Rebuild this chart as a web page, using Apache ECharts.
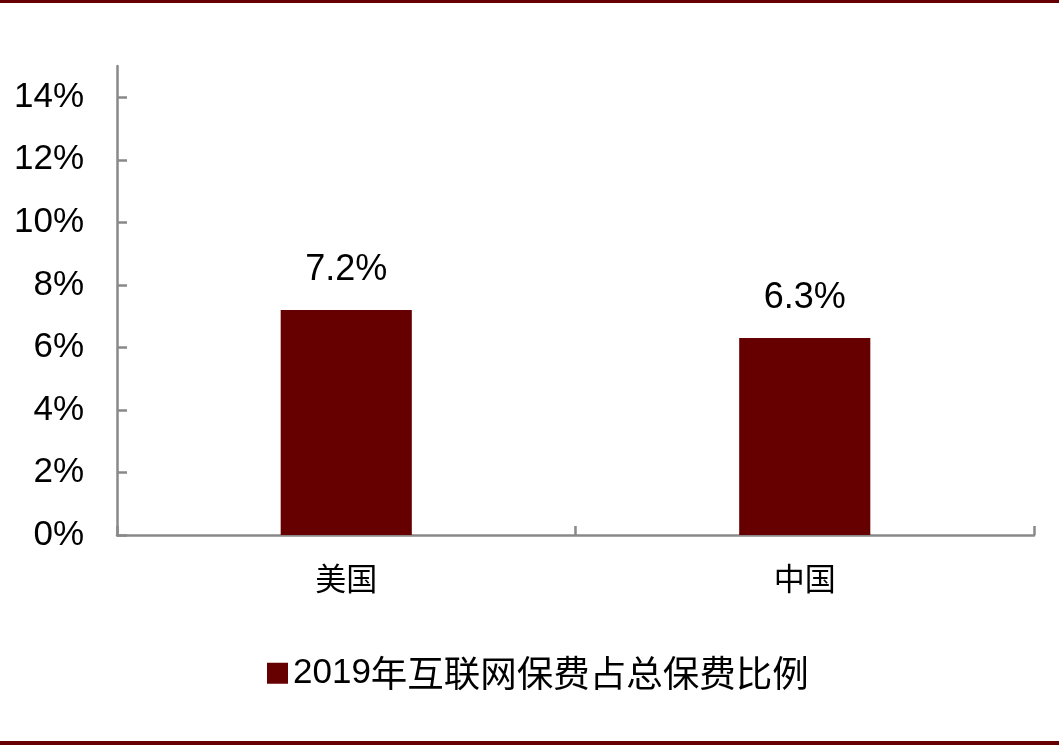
<!DOCTYPE html>
<html>
<head>
<meta charset="utf-8">
<script src="https://cdn.jsdelivr.net/npm/echarts@6/dist/echarts.min.js"></script>
<style>html,body{margin:0;padding:0;background:#fff;}#c{width:1059px;height:747px;}</style>
</head>
<body>
<div id="c"></div>
<script>
var categories = ['美国', '中国'];
var seriesName = '2019年互联网保费占总保费比例';
var values = [7.2, 6.3];
var yTicks = [0, 2, 4, 6, 8, 10, 12, 14];
var yMax = 15;

var chart = echarts.init(document.getElementById('c'));
var axisColor = '#898989';
chart.setOption({
  animation: false,
  backgroundColor: '#fff',
  grid: { left: 117, right: 25, top: 66, bottom: 212, containLabel: false },
  legend: {
    data: [seriesName],
    left: 262, top: 650,
    itemWidth: 21, itemHeight: 21, itemGap: 8,
    icon: 'rect',
    formatter: function (n) { return '{a|' + n.slice(0, 4) + '}{b|' + n.slice(4) + '}'; },
    textStyle: {
      rich: {
        a: { fontFamily: 'Liberation Sans, Arial', fontSize: 35, color: '#000' },
        b: { fontFamily: 'Noto Sans CJK SC', fontSize: 36.5, color: '#000' }
      }
    }
  },
  xAxis: {
    type: 'category',
    data: categories,
    boundaryGap: true,
    axisLine: { lineStyle: { color: axisColor, width: 2.5 } },
    axisTick: { show: true, inside: true, length: 9, alignWithLabel: false, lineStyle: { color: axisColor, width: 2.5 } },
    axisLabel: { margin: 28, fontFamily: 'Noto Sans CJK SC', fontSize: 31, color: '#000' }
  },
  yAxis: {
    type: 'value',
    min: 0, max: yMax, interval: 2,
    axisLine: { show: true, lineStyle: { color: axisColor, width: 2.5 } },
    axisTick: { show: true, inside: true, length: 10, customValues: yTicks, lineStyle: { color: axisColor, width: 2.5 } },
    axisLabel: {
      customValues: yTicks,
      margin: 33,
      fontFamily: 'Liberation Sans, Arial', fontSize: 35, color: '#000',
      formatter: function (v) { return v + '%'; }
    },
    splitLine: { show: false }
  },
  series: [{
    name: seriesName,
    type: 'bar',
    data: values,
    barWidth: '28.6%',
    itemStyle: { color: '#660000' },
    label: {
      show: true, position: 'top', distance: 22,
      fontFamily: 'Liberation Sans, Arial', fontSize: 36, color: '#000',
      formatter: function (p) { return p.value.toFixed(1) + '%'; }
    }
  }],
  graphic: [
    { type: 'rect', left: 0, top: 0, shape: { width: 1059, height: 3 }, style: { fill: '#660000' } },
    { type: 'rect', left: 0, top: 741, shape: { width: 1059, height: 4 }, style: { fill: '#660000' } }
  ]
});
</script>
</body>
</html>
